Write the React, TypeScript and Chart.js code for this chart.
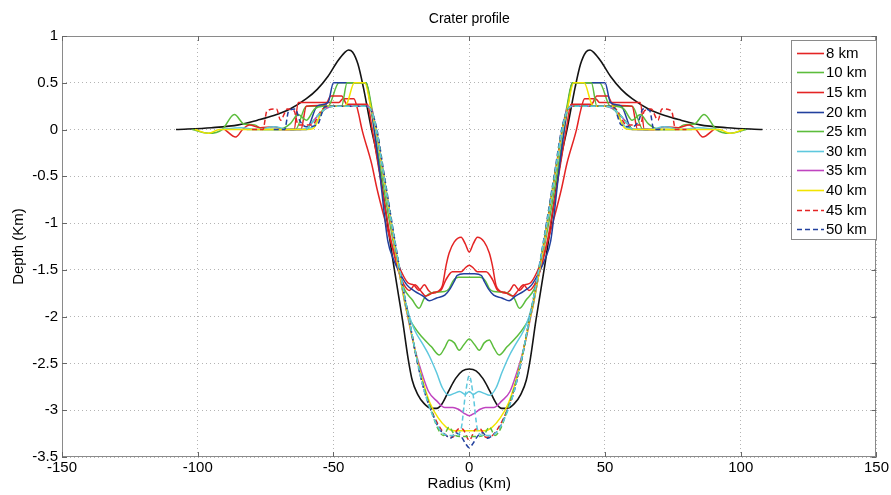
import React, { useEffect, useRef } from "react";
import { Chart, registerables } from "chart.js";

Chart.register(...registerables);

const FONT = '"Liberation Sans", Arial, Helvetica, sans-serif';

// ---------- data (radius km, depth km) ----------
const xTicks = [-150, -100, -50, 0, 50, 100, 150];
const yTicks = [1, 0.5, 0, -0.5, -1, -1.5, -2, -2.5, -3, -3.5];

const profileRef: number[][] = [
  [-108, 0], [-95, 0.02], [-85, 0.05], [-78, 0.1], [-72, 0.15], [-66, 0.22], [-60, 0.33], [-56, 0.43], [-52, 0.57], [-48.5, 0.73], [-46, 0.82], [-44.5, 0.85], [-43, 0.83], [-41, 0.7], [-39, 0.45], [-37, 0.15], [-36, 0], [-34, -0.27], [-32, -0.63], [-30, -1.03], [-28, -1.42], [-26, -1.78], [-24.5, -2.05], [-22.5, -2.45], [-21, -2.68], [-19, -2.83], [-16.6, -2.93], [-14, -2.98], [-12, -2.98], [-10, -2.93], [-7.5, -2.79], [-5, -2.66], [-2.5, -2.58], [0, -2.56],
  [2.5, -2.58], [5, -2.66], [7.5, -2.79], [10, -2.93], [12, -2.98], [14, -2.98], [16.6, -2.93], [19, -2.83], [21, -2.68], [22.5, -2.45], [24.5, -2.05], [26, -1.78], [28, -1.42], [30, -1.03], [32, -0.63], [34, -0.27], [36, 0], [37, 0.15], [39, 0.45], [41, 0.7], [43, 0.83], [44.5, 0.85], [46, 0.82], [48.5, 0.73], [52, 0.57], [56, 0.43], [60, 0.33], [66, 0.22], [72, 0.15], [78, 0.1], [85, 0.05], [95, 0.02], [108, 0],
];

const profile8: number[][] = [
  [-70, 0], [-64.5, 0], [-63, 0.29], [-48, 0.29], [-46.5, 0.33], [-42.5, 0.33], [-41, 0.2], [-39.5, 0], [-36, -0.36], [-34, -0.63], [-31.3, -0.94], [-27.6, -1.32], [-25, -1.52], [-22.5, -1.64], [-20.5, -1.66], [-18.5, -1.72], [-16.5, -1.66], [-15, -1.72], [-13.5, -1.75], [-11.5, -1.73], [-9.9, -1.67], [-8.5, -1.45], [-7.4, -1.32], [-5.5, -1.2], [-3, -1.15], [-1.5, -1.22], [0, -1.31],
  [1.5, -1.22], [3, -1.15], [5.5, -1.2], [7.4, -1.32], [8.5, -1.45], [9.9, -1.67], [11.5, -1.73], [13.5, -1.75], [15, -1.72], [16.5, -1.66], [18.5, -1.72], [20.5, -1.66], [22.5, -1.64], [25, -1.52], [27.6, -1.32], [31.3, -0.94], [34, -0.63], [36, -0.36], [39.5, 0], [41, 0.2], [42.5, 0.33], [46.5, 0.33], [48, 0.29], [63, 0.29], [64.5, 0], [70, 0],
];

const profile10: number[][] = [
  [-102, 0], [-96, -0.04], [-91, 0], [-86.5, 0.16], [-83, 0.06], [-79, 0.05], [-76, 0], [-64, 0], [-60, 0.25], [-52, 0.25], [-48, 0.5], [-38, 0.5], [-36.5, 0.28], [-35, 0], [-33, -0.35], [-30.5, -0.8], [-28, -1.2], [-26, -1.5], [-24, -1.7], [-21, -1.82], [-18.5, -1.91], [-16.5, -1.8], [-13, -1.74], [-9, -1.73], [-7.4, -1.7], [-6, -1.62], [-4, -1.58], [0, -1.58],
  [4, -1.58], [6, -1.62], [7.4, -1.7], [9, -1.73], [13, -1.74], [16.5, -1.8], [18.5, -1.91], [21, -1.82], [24, -1.7], [26, -1.5], [28, -1.2], [30.5, -0.8], [33, -0.35], [35, 0], [36.5, 0.28], [38, 0.5], [48, 0.5], [52, 0.25], [60, 0.25], [64, 0], [76, 0], [79, 0.05], [83, 0.06], [86.5, 0.16], [91, 0], [96, -0.04], [102, 0],
];

const profile15: number[][] = [
  [-90, 0], [-86, -0.08], [-83.5, 0], [-81, 0.05], [-77, 0.02], [-72, 0.03], [-68, 0], [-62, 0], [-60, 0.25], [-53, 0.26], [-51, 0.36], [-47, 0.36], [-45, 0.27], [-37.5, 0.27], [-36, 0.05], [-34, -0.3], [-32, -0.65], [-30, -1], [-28, -1.3], [-26, -1.52], [-24, -1.66], [-22, -1.72], [-20, -1.66], [-18, -1.72], [-16, -1.78], [-13, -1.74], [-10.5, -1.72], [-8.5, -1.6], [-6.2, -1.52], [-3, -1.52], [-1.5, -1.48], [0, -1.45],
  [1.5, -1.48], [3, -1.52], [6.2, -1.52], [8.5, -1.6], [10.5, -1.72], [13, -1.74], [16, -1.78], [18, -1.72], [20, -1.66], [22, -1.72], [24, -1.66], [26, -1.52], [28, -1.3], [30, -1], [32, -0.65], [34, -0.3], [36, 0.05], [37.5, 0.27], [45, 0.27], [47, 0.36], [51, 0.36], [53, 0.26], [60, 0.25], [62, 0], [68, 0], [72, 0.03], [77, 0.02], [81, 0.05], [83.5, 0], [86, -0.08], [90, 0],
];

const profile20: number[][] = [
  [-66, 0], [-60, 0], [-56, 0.25], [-52, 0.29], [-50, 0.5], [-38, 0.5], [-36.5, 0.3], [-35, 0], [-33, -0.45], [-31.5, -0.85], [-30, -1.19], [-28, -1.38], [-25.8, -1.52], [-23, -1.66], [-20, -1.73], [-17, -1.78], [-14.7, -1.83], [-12, -1.8], [-9, -1.77], [-7, -1.7], [-5.5, -1.62], [-4.5, -1.56], [-2, -1.54], [0, -1.54],
  [2, -1.54], [4.5, -1.56], [5.5, -1.62], [7, -1.7], [9, -1.77], [12, -1.8], [14.7, -1.83], [17, -1.78], [20, -1.73], [23, -1.66], [25.8, -1.52], [28, -1.38], [30, -1.19], [31.5, -0.85], [33, -0.45], [35, 0], [36.5, 0.3], [38, 0.5], [50, 0.5], [52, 0.29], [56, 0.25], [60, 0], [66, 0],
];

const profile25: number[][] = [
  [-82, 0], [-70, 0], [-66, 0.06], [-63, 0.16], [-60, 0.1], [-57, 0.22], [-54, 0.25], [-47, 0.25], [-45, 0.5], [-38, 0.5], [-36, 0.25], [-34.5, 0], [-32, -0.4], [-29.5, -0.85], [-27, -1.3], [-25, -1.65], [-23, -1.95], [-20, -2.12], [-17.3, -2.22], [-14, -2.32], [-11, -2.41], [-9, -2.33], [-7.4, -2.25], [-5.5, -2.28], [-3.7, -2.36], [-2, -2.3], [0, -2.24],
  [2, -2.3], [3.7, -2.36], [5.5, -2.28], [7.4, -2.25], [9, -2.33], [11, -2.41], [14, -2.32], [17.3, -2.22], [20, -2.12], [23, -1.95], [25, -1.65], [27, -1.3], [29.5, -0.85], [32, -0.4], [34.5, 0], [36, 0.25], [38, 0.5], [45, 0.5], [47, 0.25], [54, 0.25], [57, 0.22], [60, 0.1], [63, 0.16], [66, 0.06], [70, 0], [82, 0],
];

const profile30: number[][] = [
  [-92, 0], [-84, 0.02], [-78, 0], [-72, 0.03], [-66, 0], [-58, 0.02], [-52, 0.25], [-38, 0.25], [-36, 0.2], [-34.5, 0], [-32, -0.42], [-29.5, -0.88], [-27, -1.32], [-24.5, -1.72], [-22, -2], [-20, -2.15], [-17, -2.3], [-14.7, -2.42], [-12, -2.6], [-9.9, -2.76], [-7.5, -2.84], [-5.5, -2.82], [-3.5, -2.8], [-1.5, -2.83], [0, -2.8],
  [1.5, -2.83], [3.5, -2.8], [5.5, -2.82], [7.5, -2.84], [9.9, -2.76], [12, -2.6], [14.7, -2.42], [17, -2.3], [20, -2.15], [22, -2], [24.5, -1.72], [27, -1.32], [29.5, -0.88], [32, -0.42], [34.5, 0], [36, 0.2], [38, 0.25], [52, 0.25], [58, 0.02], [66, 0], [72, 0.03], [78, 0], [84, 0.02], [92, 0],
];

const profile35: number[][] = [
  [-60, 0], [-54, 0.2], [-50, 0.25], [-38, 0.25], [-36, 0.22], [-34.3, 0], [-31.8, -0.45], [-29.3, -0.9], [-27, -1.32], [-24.5, -1.72], [-22.3, -2.05], [-20, -2.35], [-17.5, -2.6], [-15, -2.8], [-12, -2.9], [-9, -2.97], [-6, -2.97], [-4, -2.99], [-2, -3.03], [0, -3.06],
  [2, -3.03], [4, -2.99], [6, -2.97], [9, -2.97], [12, -2.9], [15, -2.8], [17.5, -2.6], [20, -2.35], [22.3, -2.05], [24.5, -1.72], [27, -1.32], [29.3, -0.9], [31.8, -0.45], [34.3, 0], [36, 0.22], [38, 0.25], [50, 0.25], [54, 0.2], [60, 0],
];

const profile40: number[][] = [
  [-101, 0], [-96, -0.04], [-92, 0], [-60, 0], [-57.5, 0.01], [-53, 0.25], [-46, 0.25], [-45, 0.28], [-42.3, 0.5], [-38.5, 0.5], [-36, 0.2], [-34.3, 0], [-31.8, -0.45], [-29.3, -0.9], [-27, -1.32], [-24.5, -1.72], [-22, -2.08], [-19.5, -2.42], [-17, -2.7], [-14.5, -2.92], [-11.5, -3.08], [-8.5, -3.18], [-5.5, -3.22], [-3, -3.22], [0, -3.22],
  [3, -3.22], [5.5, -3.22], [8.5, -3.18], [11.5, -3.08], [14.5, -2.92], [17, -2.7], [19.5, -2.42], [22, -2.08], [24.5, -1.72], [27, -1.32], [29.3, -0.9], [31.8, -0.45], [34.3, 0], [36, 0.2], [38.5, 0.5], [42.3, 0.5], [45, 0.28], [46, 0.25], [53, 0.25], [57.5, 0.01], [60, 0], [92, 0], [96, -0.04], [101, 0],
];

const profile45: number[][] = [
  [-80, 0], [-76, 0], [-74.5, 0.2], [-71, 0.22], [-69.5, 0.1], [-67, 0.22], [-64.5, 0.2], [-63, 0.05], [-58, 0.05], [-54, 0.22], [-50, 0.25], [-38, 0.25], [-36, 0.2], [-34.2, 0], [-31.7, -0.45], [-29.2, -0.9], [-26.8, -1.32], [-24.3, -1.72], [-21.8, -2.08], [-19.3, -2.45], [-16.8, -2.75], [-14.2, -2.98], [-11.5, -3.15], [-8.5, -3.27], [-6.2, -3.29], [-4, -3.2], [-2.5, -3.2], [0, -3.32],
  [2.5, -3.2], [4, -3.2], [6.2, -3.29], [8.5, -3.27], [11.5, -3.15], [14.2, -2.98], [16.8, -2.75], [19.3, -2.45], [21.8, -2.08], [24.3, -1.72], [26.8, -1.32], [29.2, -0.9], [31.7, -0.45], [34.2, 0], [36, 0.2], [38, 0.25], [50, 0.25], [54, 0.22], [58, 0.05], [63, 0.05], [64.5, 0.2], [67, 0.22], [69.5, 0.1], [71, 0.22], [74.5, 0.2], [76, 0], [80, 0],
];

const profile50: number[][] = [
  [-72, 0], [-68, 0], [-66.5, 0.2], [-64, 0.22], [-62.5, 0.1], [-60, 0.03], [-56, 0.05], [-53, 0.25], [-38, 0.25], [-36, 0.2], [-34, 0], [-31.5, -0.45], [-29, -0.9], [-26.6, -1.32], [-24.2, -1.72], [-21.7, -2.1], [-19.2, -2.48], [-16.5, -2.8], [-13.8, -3.02], [-11, -3.2], [-8.5, -3.27], [-6.8, -3.3], [-5, -3.24], [-3, -3.28], [-1.5, -3.35], [0, -3.4],
  [1.5, -3.35], [3, -3.28], [5, -3.24], [6.8, -3.3], [8.5, -3.27], [11, -3.2], [13.8, -3.02], [16.5, -2.8], [19.2, -2.48], [21.7, -2.1], [24.2, -1.72], [26.6, -1.32], [29, -0.9], [31.5, -0.45], [34, 0], [36, 0.2], [38, 0.25], [53, 0.25], [56, 0.05], [60, 0.03], [62.5, 0.1], [64, 0.22], [66.5, 0.2], [68, 0], [72, 0],
];

const profile55: number[][] = [
  [-60, 0], [-54, 0.2], [-50, 0.25], [-38, 0.25], [-36, 0.2], [-34.2, 0], [-31.7, -0.45], [-29.2, -0.9], [-26.7, -1.32], [-24.2, -1.72], [-21.8, -2.08], [-19.3, -2.45], [-16.7, -2.75], [-14, -3], [-11.5, -3.2], [-9.5, -3.27], [-7.4, -3.18], [-5.5, -3.26], [-3, -3.28], [0, -3.28],
  [3, -3.28], [5.5, -3.26], [7.4, -3.18], [9.5, -3.27], [11.5, -3.2], [14, -3], [16.7, -2.75], [19.3, -2.45], [21.8, -2.08], [24.2, -1.72], [26.7, -1.32], [29.2, -0.9], [31.7, -0.45], [34.2, 0], [36, 0.2], [38, 0.25], [50, 0.25], [54, 0.2], [60, 0],
];

const profile60: number[][] = [
  [-60, 0], [-54, 0.2], [-50, 0.25], [-38, 0.25], [-36, 0.2], [-34.2, 0], [-31.7, -0.45], [-29.2, -0.9], [-26.7, -1.32], [-24.2, -1.72], [-21.8, -2.08], [-19.3, -2.45], [-16.7, -2.78], [-14, -3.02], [-11, -3.2], [-8, -3.27], [-5, -3.27], [-3, -3.2], [-1.5, -2.85], [0, -2.63],
  [1.5, -2.85], [3, -3.2], [5, -3.27], [8, -3.27], [11, -3.2], [14, -3.02], [16.7, -2.78], [19.3, -2.45], [21.8, -2.08], [24.2, -1.72], [26.7, -1.32], [29.2, -0.9], [31.7, -0.45], [34.2, 0], [36, 0.2], [38, 0.25], [50, 0.25], [54, 0.2], [60, 0],
];

const seriesLabels = ["", "8 km", "10 km", "15 km", "20 km", "25 km", "30 km", "35 km", "40 km", "45 km", "50 km", "", ""];
const seriesProfiles = [profileRef, profile8, profile10, profile15, profile20, profile25, profile30, profile35, profile40, profile45, profile50, profile55, profile60];
const seriesColors = ["#141414", "#e42424", "#5cbd3c", "#e42424", "#22409e", "#5cbd3c", "#5ec8de", "#c044c0", "#f2e400", "#e42424", "#22409e", "#5cbd3c", "#5ec8de"];
const seriesDashed = [false, false, false, false, false, false, false, false, false, true, true, true, true];

// ---------- plugin: frame, titles, legend ----------
const decorPlugin = {
  id: "decor",
  afterDraw(chart: any) {
    const { ctx, chartArea: a } = chart;
    const xs = chart.scales.x;
    const ys = chart.scales.y;
    ctx.save();
    ctx.strokeStyle = "#8a8a8a";
    ctx.lineWidth = 1;
    ctx.setLineDash([]);
    ctx.strokeRect(Math.round(a.left) + 0.5, Math.round(a.top) + 0.5, Math.round(a.right - a.left) - 1, Math.round(a.bottom - a.top) - 1);
    ctx.strokeStyle = "#666";
    const tl = 5;
    ctx.beginPath();
    xTicks.forEach((v) => {
      const px = Math.round(xs.getPixelForValue(v)) + 0.5;
      ctx.moveTo(px, a.bottom); ctx.lineTo(px, a.bottom - tl);
      ctx.moveTo(px, a.top); ctx.lineTo(px, a.top + tl);
    });
    yTicks.forEach((v) => {
      const py = Math.round(ys.getPixelForValue(v)) + 0.5;
      ctx.moveTo(a.left, py); ctx.lineTo(a.left + tl, py);
      ctx.moveTo(a.right, py); ctx.lineTo(a.right - tl, py);
    });
    ctx.stroke();
    ctx.fillStyle = "#000";
    ctx.font = `14px ${FONT}`;
    ctx.textAlign = "center";
    ctx.textBaseline = "middle";
    ctx.fillText("Crater profile", (a.left + a.right) / 2, 19);
    ctx.font = `15px ${FONT}`;
    ctx.fillText("Radius (Km)", (a.left + a.right) / 2, 484);
    ctx.save();
    ctx.translate(19, (a.top + a.bottom) / 2);
    ctx.rotate(-Math.PI / 2);
    ctx.fillText("Depth (Km)", 0, 0);
    ctx.restore();
    const items = chart.data.datasets.filter((d: any) => d.label);
    const bx = 791, by = 40, bw = 86, rowH = 19.6;
    const bh = items.length * rowH + 3;
    ctx.fillStyle = "#fff";
    ctx.fillRect(bx, by, bw, bh);
    ctx.strokeStyle = "#8a8a8a";
    ctx.strokeRect(bx + 0.5, by + 0.5, bw - 1, bh);
    ctx.font = `15px ${FONT}`;
    ctx.textAlign = "left";
    items.forEach((d: any, i: number) => {
      const y = by + 12.7 + i * rowH;
      ctx.strokeStyle = d.borderColor;
      ctx.lineWidth = 1.6;
      ctx.setLineDash(d.borderDash || []);
      ctx.beginPath();
      ctx.moveTo(797, Math.round(y) + 0.5);
      ctx.lineTo(824, Math.round(y) + 0.5);
      ctx.stroke();
      ctx.setLineDash([]);
      ctx.fillStyle = "#000";
      ctx.fillText(d.label, 826, y + 1);
    });
    ctx.restore();
  },
};

export default function App() {
  const ref = useRef<HTMLCanvasElement>(null);
  useEffect(() => {
    document.body.style.margin = "0";
    const datasets = seriesProfiles.map((p, i) => ({
      label: seriesLabels[i],
      data: p.map(([x, y]) => ({ x, y })),
      borderColor: seriesColors[i],
      backgroundColor: seriesColors[i],
      borderWidth: i === 0 ? 1.6 : 1.5,
      borderDash: seriesDashed[i] ? [5, 3] : [],
      pointRadius: 0,
      showLine: true,
      fill: false,
      cubicInterpolationMode: "monotone" as const,
      order: -i,
    }));
    const chart = new Chart(ref.current!, {
      type: "scatter",
      data: { datasets },
      options: {
        animation: false,
        responsive: false,
        devicePixelRatio: 1,
        layout: { padding: { left: 0, right: 14, top: 36, bottom: 0 } },
        plugins: { legend: { display: false }, tooltip: { enabled: false }, title: { display: false } },
        scales: {
          x: {
            type: "linear",
            min: -150,
            max: 150,
            afterFit: (s: any) => { s.height = 38; },
            afterBuildTicks: (s: any) => { s.ticks = xTicks.map((v) => ({ value: v })); },
            ticks: { color: "#000", font: { family: FONT, size: 15 }, padding: 2, maxRotation: 0, autoSkip: false, callback: (v: any) => String(v) },
            grid: { color: "#b4b4b4", drawTicks: false, lineWidth: 1 },
            border: { display: false, dash: [1, 3] },
          },
          y: {
            type: "linear",
            min: -3.5,
            max: 1,
            afterFit: (s: any) => { s.width = 62; },
            afterBuildTicks: (s: any) => { s.ticks = yTicks.slice().reverse().map((v) => ({ value: v })); },
            ticks: { color: "#000", font: { family: FONT, size: 15 }, padding: 4, autoSkip: false, callback: (v: any) => String(v) },
            grid: { color: "#b4b4b4", drawTicks: false, lineWidth: 1 },
            border: { display: false, dash: [1, 3] },
          },
        },
      },
      plugins: [decorPlugin],
    } as any);
    return () => chart.destroy();
  }, []);
  return (
    <div style={{ width: 891, height: 495 }}>
      <canvas ref={ref} width={891} height={495} style={{ display: "block" }} />
    </div>
  );
}
